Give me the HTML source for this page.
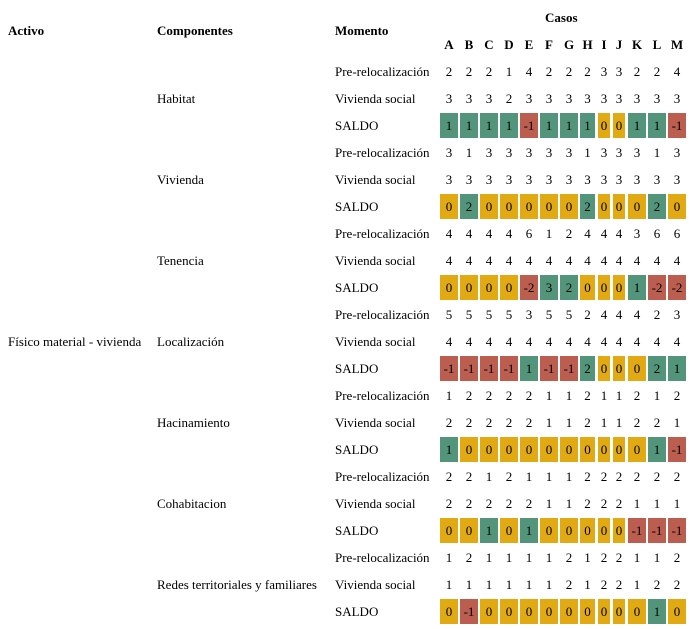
<!DOCTYPE html>
<html><head><meta charset="utf-8">
<style>
body{margin:0;background:#fff;width:691px;height:629px;position:relative;overflow:hidden;font-family:"Liberation Serif",serif;font-size:13px;color:#000}
.t{position:absolute;white-space:nowrap;line-height:16px}
.b{font-weight:bold}
.c{position:absolute;text-align:center;line-height:25px;height:25px}
</style></head>
<body>
<div class="t b" style="left:8px;top:23px">Activo</div>
<div class="t b" style="left:157px;top:23px">Componentes</div>
<div class="t b" style="left:335px;top:23px">Momento</div>
<div class="t b" style="left:545px;top:10px">Casos</div>
<div id="root"></div>
<script>
const cases=["A","B","C","D","E","F","G","H","I","J","K","L","M"];
const components=["Habitat","Vivienda","Tenencia","Localización","Hacinamiento","Cohabitacion","Redes territoriales y familiares"];
const pre=[
[2,2,2,1,4,2,2,2,3,3,2,2,4],
[3,1,3,3,3,3,3,1,3,3,3,1,3],
[4,4,4,4,6,1,2,4,4,4,3,6,6],
[5,5,5,5,3,5,5,2,4,4,4,2,3],
[1,2,2,2,2,1,1,2,1,1,2,1,2],
[2,2,1,2,1,1,1,2,2,2,2,2,2],
[1,2,1,1,1,1,2,1,2,2,1,1,2]];
const vs=[
[3,3,3,2,3,3,3,3,3,3,3,3,3],
[3,3,3,3,3,3,3,3,3,3,3,3,3],
[4,4,4,4,4,4,4,4,4,4,4,4,4],
[4,4,4,4,4,4,4,4,4,4,4,4,4],
[2,2,2,2,2,1,1,2,1,1,2,2,1],
[2,2,2,2,2,1,1,2,2,2,1,1,1],
[1,1,1,1,1,1,2,1,2,2,1,2,2]];
const saldo=[
[1,1,1,1,-1,1,1,1,0,0,1,1,-1],
[0,2,0,0,0,0,0,2,0,0,0,2,0],
[0,0,0,0,-2,3,2,0,0,0,1,-2,-2],
[-1,-1,-1,-1,1,-1,-1,2,0,0,0,2,1],
[1,0,0,0,0,0,0,0,0,0,0,1,-1],
[0,0,1,0,1,0,0,0,0,0,-1,-1,-1],
[0,-1,0,0,0,0,0,0,0,0,0,1,0]];
const colX=[440,460,480,500,520,540,560,580,598,613,628,648,668];
const colW=[18,18,18,18,18,18,18,15,12,12,18,18,18];
const root=document.getElementById('root');
function rowY(r){return 72+27*r;}
function txt(x,y,s,cls){const d=document.createElement('div');d.className='t'+(cls?' '+cls:'');d.style.left=x+'px';d.style.top=(y-8)+'px';d.textContent=s;root.appendChild(d);return d;}
cases.forEach((c,i)=>{
  const d=document.createElement('div');d.className='t b';
  d.style.left=colX[i]+'px';d.style.width=colW[i]+'px';d.style.textAlign='center';d.style.top='37px';d.textContent=c;
  
  
  root.appendChild(d);
});
function color(v){return v>0?'#53957a':(v<0?'#bb5d4f':'#e1aa12');}
components.forEach((comp,k)=>{
  const r0=k*3;
  const lbl=txt(157,rowY(r0+1),comp);
  
  
  const rows=[["Pre-relocalización",pre[k]],["Vivienda social",vs[k]],["SALDO",saldo[k]]];
  rows.forEach((row,j)=>{
    const y=rowY(r0+j);
    const m=txt(335,y,row[0]);
    
    
    row[1].forEach((v,i)=>{
      const d=document.createElement('div');
      if(j===2){
        d.className='c';d.style.top=(y-13)+'px';d.style.background=color(v);
        
      }else{
        d.className='t';d.style.top=(y-8)+'px';d.style.textAlign='center';
        
      }
      
      d.style.left=colX[i]+'px';d.style.width=colW[i]+'px';
      d.textContent=v;
      root.appendChild(d);
    });
  });
});
const a=txt(8,rowY(10),"Físico material - vivienda");


</script>
</body></html>
